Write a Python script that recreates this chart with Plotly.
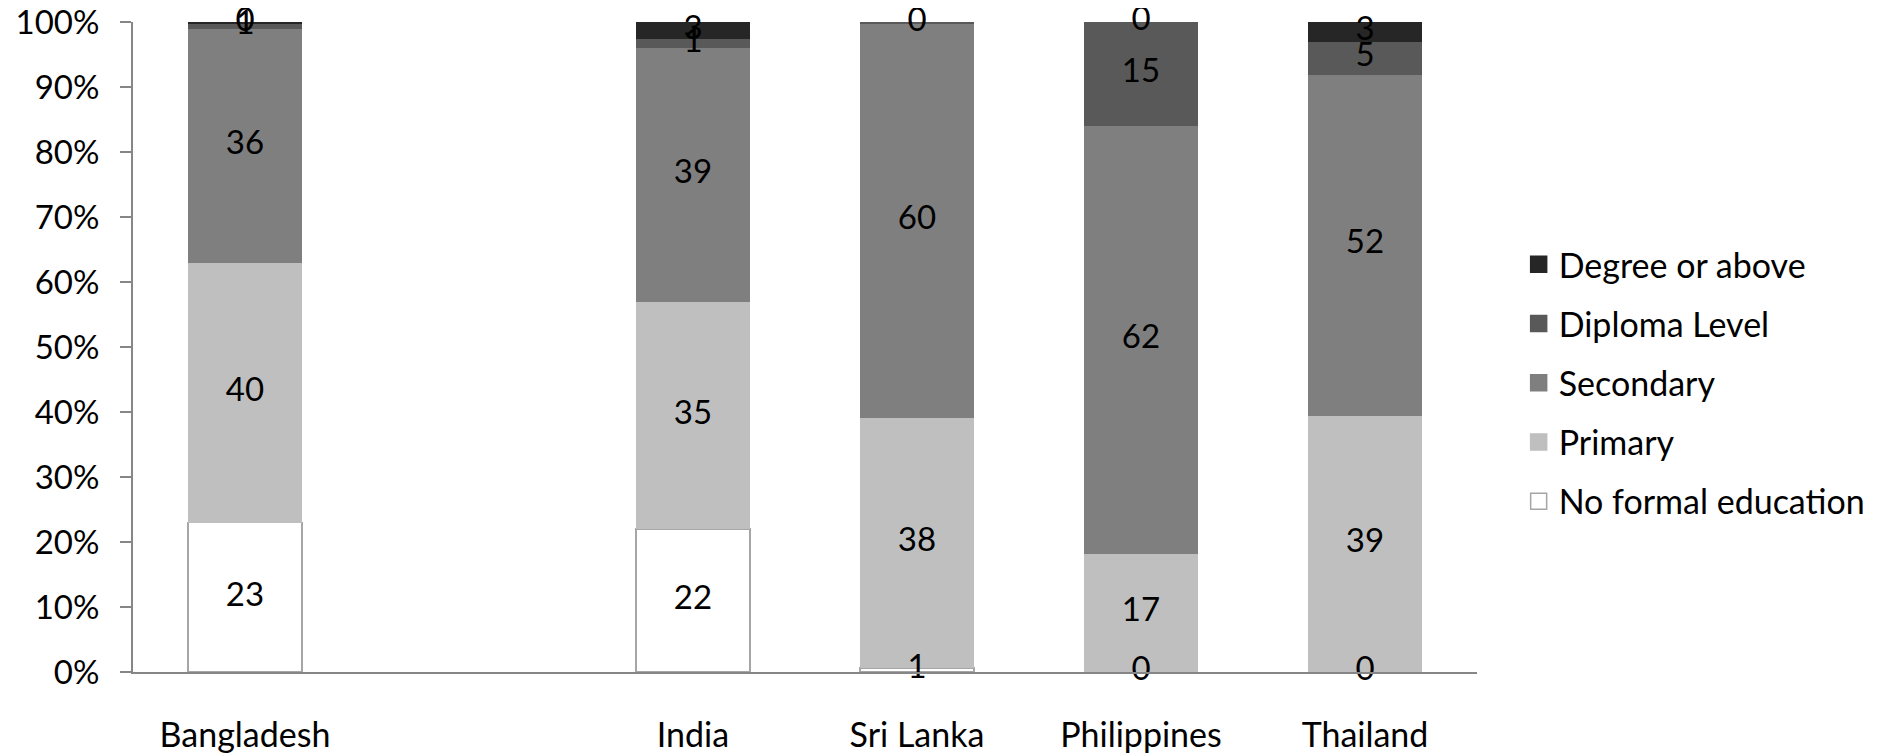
import plotly.graph_objects as go

categories = ["Bangladesh", " ", "India", "Sri Lanka", "Philippines", "Thailand"]
series_names = ["No formal education", "Primary", "Secondary", "Diploma Level", "Degree or above"]

no_formal = [23, None, 22, 0.6, 0, 0]
primary = [40, None, 35, 38, 17, 39]
secondary = [36, None, 39, 60, 62, 52]
diploma = [0.7, None, 1.4, 0.3, 15, 5]
degree = [0.3, None, 2.6, 0, 0, 3]

colors = ["#ffffff", "#bfbfbf", "#7f7f7f", "#595959", "#262626"]
line_colors = ["#a6a6a6", "#bfbfbf", "#7f7f7f", "#595959", "#262626"]

series = [no_formal, primary, secondary, diploma, degree]
FONT = "Lato"
FS = 33

fig = go.Figure()
for name, vals, c, lc in zip(series_names, series, colors, line_colors):
    fig.add_trace(go.Bar(
        x=categories, y=vals, name=name, marker_color=c,
        marker_line_color=lc, marker_line_width=1.5 if c == "#ffffff" else 0,
        showlegend=False, hoverinfo="skip",
    ))

# data labels at segment centres (normalised to 100%)
totals = []
for i in range(len(categories)):
    t = sum((s[i] or 0) for s in series)
    totals.append(t)
lab_x, lab_y, lab_t = [], [], []
cum = [0.0] * len(categories)
for vals in series:
    for i, v in enumerate(vals):
        if v is None or totals[i] == 0:
            continue
        p = v / totals[i] * 100
        lab_x.append(categories[i])
        lab_y.append(cum[i] + p / 2)
        lab_t.append(f"{v:.0f}")
        cum[i] += p
fig.add_trace(go.Scatter(
    x=lab_x, y=lab_y, text=lab_t, mode="text", textposition="middle center",
    textfont=dict(family=FONT, size=FS, color="#000000"), showlegend=False,
    hoverinfo="skip", cliponaxis=False,
))

# legend entries (top to bottom)
for name, c, lc in reversed(list(zip(series_names, colors, line_colors))):
    fig.add_trace(go.Scatter(
        x=[None], y=[None], mode="markers", name=name,
        marker=dict(symbol="square", size=16, color=c,
                    line=dict(color=lc if c == "#ffffff" else c, width=1.5)),
        legendgroup=name,
    ))

fig.update_layout(
    barmode="stack", barnorm="percent", bargap=0.49,
    width=1875, height=745,
    margin=dict(l=125, r=386, t=14, b=81),
    plot_bgcolor="white", paper_bgcolor="white",
    font=dict(family=FONT, size=FS, color="#000000"),
    legend=dict(x=1.031, y=0.445, xanchor="left", yanchor="middle",
                traceorder="grouped", tracegroupgap=12,
                font=dict(family=FONT, size=34, color="#000000"),
                itemsizing="trace"),
    xaxis=dict(type="category", categoryorder="array", categoryarray=categories,
               range=[-0.5, 5.5], showline=True, linecolor="#868686", linewidth=2,
               ticks="", showgrid=False, zeroline=False, ticklabelstandoff=32,
               automargin=False, ticklabeloverflow="allow",
               tickfont=dict(family=FONT, size=34, color="#000000")),
    yaxis=dict(range=[0, 100], dtick=10, ticksuffix="%", showline=True,
               linecolor="#868686", linewidth=2, ticks="outside", ticklen=11,
               tickcolor="#868686", tickwidth=2, showgrid=False, zeroline=False,
               ticklabelstandoff=14, automargin=False, ticklabeloverflow="allow",
               tickfont=dict(family=FONT, size=FS, color="#000000")),
)

fig.write_html("out.html")
